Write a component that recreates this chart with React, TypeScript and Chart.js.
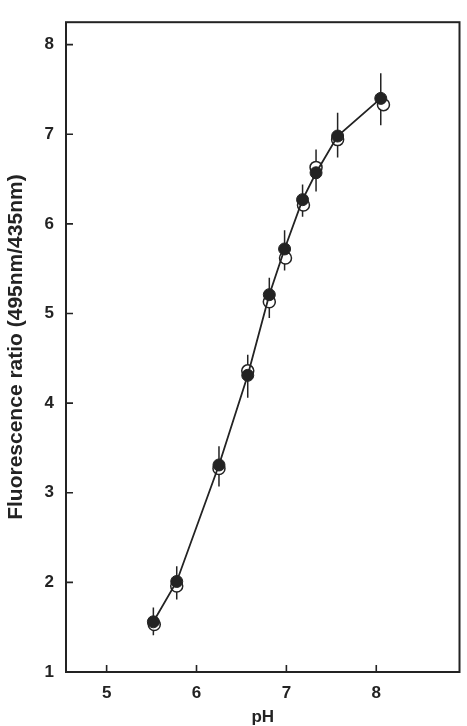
import React, { useEffect, useRef } from "react";
import { Chart, registerables } from "chart.js";

Chart.register(...registerables);

// pH values and fluorescence ratios
const phFilled = [5.52, 5.78, 6.25, 6.57, 6.81, 6.98, 7.18, 7.33, 7.57, 8.05];
const ratioFilled = [1.56, 2.01, 3.31, 4.31, 5.21, 5.72, 6.27, 6.57, 6.98, 7.4];
const phOpen = [5.53, 5.78, 6.25, 6.57, 6.81, 6.99, 7.19, 7.33, 7.57, 8.08];
const ratioOpen = [1.53, 1.96, 3.27, 4.36, 5.13, 5.62, 6.21, 6.63, 6.94, 7.33];
const errHigh = [1.72, 2.18, 3.52, 4.54, 5.4, 5.93, 6.44, 6.83, 7.24, 7.68];
const errLow = [1.41, 1.81, 3.07, 4.06, 4.95, 5.48, 6.08, 6.36, 6.74, 7.1];
const xTicks = [5, 6, 7, 8];
const yTicks = [1, 2, 3, 4, 5, 6, 7, 8];

const xTitle = "pH";
const yTitle = "Fluorescence ratio (495nm/435nm)";

export default function App() {
  const ref = useRef<HTMLCanvasElement>(null);

  useEffect(() => {
    document.body.style.margin = "0";
    const ink = "#232323";
    const fontFamily = "'Liberation Sans', Arial, Helvetica, sans-serif";

    const framePlugin = {
      id: "frame",
      beforeDatasetsDraw(chart: any) {
        const { ctx, chartArea, scales } = chart;
        const { left, right, top, bottom } = chartArea;
        ctx.save();
        ctx.strokeStyle = ink;
        ctx.lineWidth = 2;
        ctx.strokeRect(left, top, right - left, bottom - top);
        // inward ticks
        ctx.lineWidth = 1.6;
        ctx.beginPath();
        yTicks.forEach((v) => {
          const y = scales.y.getPixelForValue(v);
          ctx.moveTo(left, y);
          ctx.lineTo(left + 7, y);
        });
        xTicks.forEach((v) => {
          const x = scales.x.getPixelForValue(v);
          ctx.moveTo(x, bottom);
          ctx.lineTo(x, bottom - 7);
        });
        ctx.stroke();
        // error bars
        ctx.lineWidth = 1.5;
        ctx.beginPath();
        phFilled.forEach((p, i) => {
          const x = scales.x.getPixelForValue(p);
          ctx.moveTo(x, scales.y.getPixelForValue(errHigh[i]));
          ctx.lineTo(x, scales.y.getPixelForValue(errLow[i]));
        });
        ctx.stroke();
        ctx.restore();
      },
    };

    const chart = new Chart(ref.current as HTMLCanvasElement, {
      type: "scatter",
      data: {
        datasets: [
          {
            label: "open",
            data: phOpen.map((x, i) => ({ x, y: ratioOpen[i] })),
            showLine: false,
            pointRadius: 6,
            pointBackgroundColor: "#ffffff",
            pointBorderColor: ink,
            pointBorderWidth: 1.5,
            order: 2,
          },
          {
            label: "filled",
            data: phFilled.map((x, i) => ({ x, y: ratioFilled[i] })),
            showLine: true,
            borderColor: ink,
            borderWidth: 1.8,
            tension: 0,
            pointRadius: 6,
            pointBackgroundColor: ink,
            pointBorderColor: ink,
            pointBorderWidth: 1,
            order: 1,
          },
        ],
      },
      options: {
        responsive: false,
        animation: false,
        layout: { padding: { top: 10, right: 4, left: 0, bottom: 0 } },
        plugins: {
          legend: { display: false },
          tooltip: { enabled: false },
        },
        scales: {
          x: {
            type: "linear",
            min: 4.548,
            max: 8.926,
            afterFit: (s: any) => {
              s.height = 54;
            },
            afterBuildTicks: (s: any) => {
              s.ticks = xTicks.map((v) => ({ value: v }));
            },
            grid: { display: false, drawTicks: false },
            border: { display: false },
            ticks: {
              padding: 11,
              color: ink,
              font: { family: fontFamily, size: 17, weight: "bold" },
            },
            title: {
              display: true,
              text: xTitle,
              color: ink,
              padding: 0,
              font: { family: fontFamily, size: 17, weight: "bold", lineHeight: 1 },
            },
          },
          y: {
            type: "linear",
            min: 1,
            max: 8.25,
            afterFit: (s: any) => {
              s.width = 66;
            },
            afterBuildTicks: (s: any) => {
              s.ticks = yTicks.map((v) => ({ value: v }));
            },
            grid: { display: false, drawTicks: false },
            border: { display: false },
            ticks: {
              padding: 12,
              color: ink,
              font: { family: fontFamily, size: 17, weight: "bold" },
            },
            title: {
              display: true,
              text: yTitle,
              color: ink,
              padding: { top: 4, bottom: 0 },
              font: { family: fontFamily, size: 21, weight: "bold" },
            },
          },
        },
      },
      plugins: [framePlugin],
    });

    return () => chart.destroy();
  }, []);

  return (
    <div style={{ width: 467, height: 726, background: "#ffffff" }}>
      <canvas ref={ref} width={467} height={726} style={{ display: "block" }} />
    </div>
  );
}
